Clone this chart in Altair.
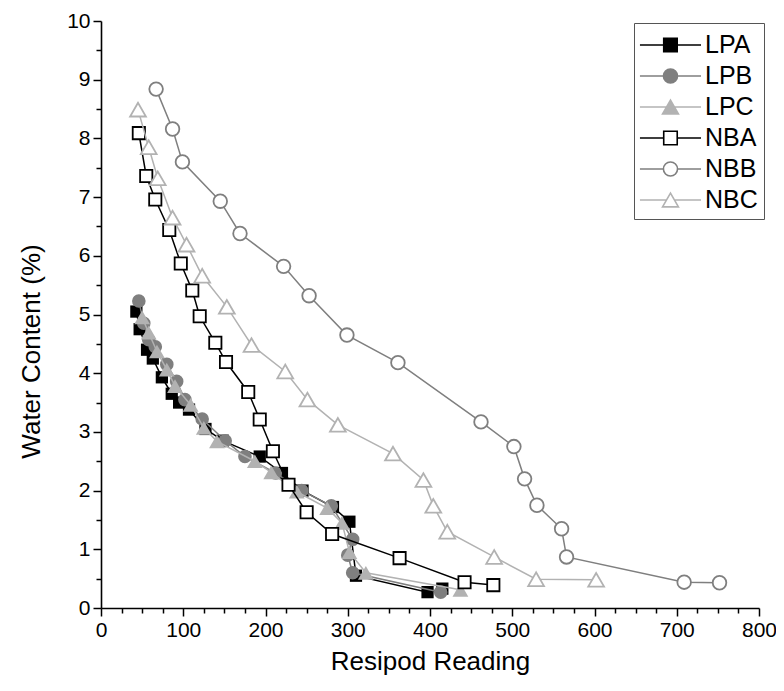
import altair as alt
import pandas as pd

# ---------------- data ----------------
series_names = ["LPA", "LPB", "LPC", "NBA", "NBB", "NBC"]

lpa_x = [43, 47, 56, 63, 74, 86, 95, 107, 127, 148, 193, 220, 245, 282, 302, 310, 397, 415]
lpa_y = [5.05, 4.75, 4.40, 4.25, 3.93, 3.65, 3.50, 3.38, 3.05, 2.85, 2.58, 2.30, 2.00, 1.72, 1.47, 0.55, 0.27, 0.33]

lpb_x = [46, 52, 58, 66, 80, 92, 102, 123, 151, 175, 212, 244, 280, 306, 300, 306, 413]
lpb_y = [5.23, 4.85, 4.57, 4.45, 4.15, 3.86, 3.55, 3.22, 2.85, 2.58, 2.30, 2.00, 1.74, 1.17, 0.90, 0.60, 0.27]

lpc_x = [50, 58, 68, 80, 90, 109, 125, 141, 187, 207, 238, 275, 293, 302, 322, 437]
lpc_y = [4.95, 4.69, 4.37, 4.06, 3.78, 3.46, 3.07, 2.84, 2.50, 2.31, 1.98, 1.70, 1.45, 0.95, 0.60, 0.31]

nba_x = [46, 55, 66, 83, 97, 111, 120, 139, 152, 179, 193, 209, 228, 250, 281, 363, 442, 477]
nba_y = [8.09, 7.36, 6.96, 6.44, 5.87, 5.41, 4.97, 4.52, 4.19, 3.68, 3.21, 2.67, 2.10, 1.63, 1.26, 0.85, 0.44, 0.39]

nbb_x = [67, 87, 99, 145, 169, 222, 253, 299, 361, 462, 502, 515, 530, 560, 566, 709, 752]
nbb_y = [8.84, 8.16, 7.60, 6.93, 6.38, 5.82, 5.32, 4.65, 4.18, 3.17, 2.75, 2.20, 1.75, 1.35, 0.87, 0.44, 0.43]

nbc_x = [45, 58, 69, 87, 104, 123, 153, 183, 224, 251, 288, 355, 392, 404, 421, 478, 529, 602]
nbc_y = [8.49, 7.85, 7.32, 6.65, 6.19, 5.66, 5.13, 4.48, 4.03, 3.55, 3.12, 2.63, 2.18, 1.74, 1.30, 0.87, 0.49, 0.48]

x_ticks = list(range(0, 801, 25))
y_ticks = [i * 0.5 for i in range(0, 21)]

series_x = [lpa_x, lpb_x, lpc_x, nba_x, nbb_x, nbc_x]
series_y = [lpa_y, lpb_y, lpc_y, nba_y, nbb_y, nbc_y]

rows = []
for name, xs, ys in zip(series_names, series_x, series_y):
    for i, (xv, yv) in enumerate(zip(xs, ys)):
        rows.append({"series": name, "idx": i, "x": xv, "y": yv})
df = pd.DataFrame(rows)

# ---------------- styles ----------------
colors = {"LPA": "#000000", "LPB": "#7f7f7f", "LPC": "#b2b2b2",
          "NBA": "#000000", "NBB": "#7f7f7f", "NBC": "#b2b2b2"}
shapes = {"LPA": "square", "LPB": "circle", "LPC": "triangle-up",
          "NBA": "square", "NBB": "circle", "NBC": "triangle-up"}
is_filled = {"LPA": True, "LPB": True, "LPC": True,
             "NBA": False, "NBB": False, "NBC": False}
sizes = {"square": 150, "circle": 185, "triangle-up": 250}

FONT = "Liberation Sans"

# legend symbols: line + marker drawn as one custom path (unit = 15 px)
X0, X1 = -1.07, 3.0
M = (X0 + X1) / 2


def fmt(v):
    return f"{v:.3f}"


def square_path(filled):
    a = 0.45
    p = f"M{fmt(X0)},0H{fmt(M - a)}M{fmt(M + a)},0H{fmt(X1)}"
    p += f"M{fmt(M - a)},{fmt(-a)}H{fmt(M + a)}V{fmt(a)}H{fmt(M - a)}Z"
    if filled:
        y = -a
        while y <= a + 1e-9:
            p += f"M{fmt(M - a)},{fmt(y)}H{fmt(M + a)}"
            y += 0.07
    return p


def circle_path(filled):
    r = 0.47
    p = f"M{fmt(X0)},0H{fmt(M - r)}M{fmt(M + r)},0H{fmt(X1)}"
    p += (f"M{fmt(M + r)},0A{fmt(r)},{fmt(r)} 0 1,1 {fmt(M - r)},0"
          f"A{fmt(r)},{fmt(r)} 0 1,1 {fmt(M + r)},0Z")
    if filled:
        y = -r
        while y <= r + 1e-9:
            hw = max(r * r - y * y, 0) ** 0.5
            p += f"M{fmt(M - hw)},{fmt(y)}H{fmt(M + hw)}"
            y += 0.07
    return p


def triangle_path(filled):
    r = 0.53
    h = 0.46
    hw0 = r * h / (2 * h)
    p = f"M{fmt(X0)},0H{fmt(M - hw0)}M{fmt(M + hw0)},0H{fmt(X1)}"
    p += f"M{fmt(M)},{fmt(-h)}L{fmt(M - r)},{fmt(h)}L{fmt(M + r)},{fmt(h)}Z"
    if filled:
        y = -h
        while y <= h + 1e-9:
            hw = r * (y + h) / (2 * h)
            p += f"M{fmt(M - hw)},{fmt(y)}H{fmt(M + hw)}"
            y += 0.07
    return p


path_makers = {"square": square_path, "circle": circle_path, "triangle-up": triangle_path}
legend_paths = [path_makers[shapes[n]](is_filled[n]) for n in series_names]
legend_colors = [colors[n] for n in series_names]

# ---------------- encodings ----------------
x_axis = alt.Axis(
    values=x_ticks,
    labelExpr="datum.value % 100 === 0 ? format(datum.value, 'd') : ''",
    tickSize={"condition": {"test": "datum.value % 100 === 0", "value": 8}, "value": 5},
    labelOverlap=False, labelFlush=False, grid=False, titlePadding=8,
)
y_axis = alt.Axis(
    values=y_ticks,
    labelExpr="datum.value % 1 === 0 ? format(datum.value, 'd') : ''",
    tickSize={"condition": {"test": "datum.value % 1 === 0", "value": 8}, "value": 5},
    labelOverlap=False, labelFlush=False, grid=False, titleY=330, titlePadding=22,
)
x_enc = alt.X("x:Q", scale=alt.Scale(domain=[0, 800], nice=False, zero=False),
              axis=x_axis, title="Resipod Reading")
y_enc = alt.Y("y:Q", scale=alt.Scale(domain=[0, 10], nice=False, zero=False),
              axis=y_axis, title="Water Content (%)")

layers = []
for name in series_names:
    base = alt.Chart(df[df["series"] == name])
    c = colors[name]
    line = base.mark_line(color=c, strokeWidth=1.5).encode(x=x_enc, y=y_enc, order="idx:Q")
    shp = shapes[name]
    if is_filled[name]:
        pts = base.mark_point(shape=shp, filled=True, fill=c, strokeWidth=0,
                              size=sizes[shp], opacity=1)
    else:
        pts = base.mark_point(shape=shp, filled=False, fill="white", stroke=c,
                              strokeWidth=1.8, size=sizes[shp], opacity=1)
    pts = pts.encode(x=x_enc, y=y_enc)
    layers += [line, pts]

leg = alt.Legend(
    title=None, orient="none", legendX=533, legendY=2,
    symbolSize=900, symbolStrokeWidth=1.6, symbolOpacity=1,
    symbolFillColor="transparent",
    labelFont=FONT, labelFontSize=25, labelColor="black", labelOffset=33,
    padding=6, rowPadding=2, strokeColor="#555555", fillColor="white",
    labelLimit=0,
)
legend_layer = alt.Chart(df).mark_point(opacity=0, filled=False).encode(
    x=x_enc, y=y_enc,
    color=alt.Color("series:N", scale=alt.Scale(domain=series_names, range=legend_colors), legend=leg),
    shape=alt.Shape("series:N", scale=alt.Scale(domain=series_names, range=legend_paths), legend=leg),
)
layers.append(legend_layer)

chart = alt.layer(*layers).properties(
    width=658, height=587,
    padding={"left": 93, "top": 13, "right": 17, "bottom": 74},
    autosize="none",
).configure_view(stroke=None).configure_axis(
    domainColor="black", domainWidth=1.6, tickColor="black", tickWidth=1.5,
    labelFont=FONT, labelFontSize=21, labelColor="black", labelPadding=3,
    titleFont=FONT, titleFontSize=26, titleFontWeight="normal", titleColor="black",
)

chart.save("out.html", embed_options={"renderer": "svg", "actions": False})
